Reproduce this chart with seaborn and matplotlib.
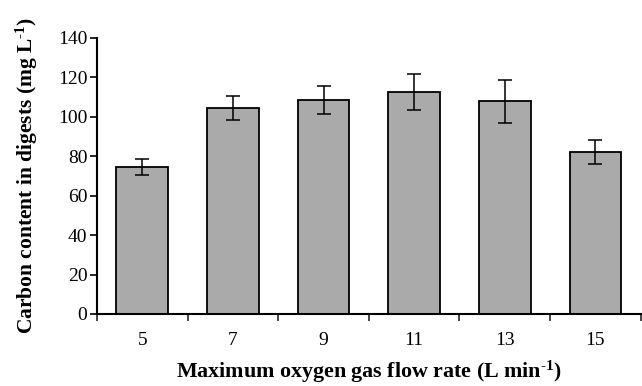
import matplotlib
matplotlib.use("Agg")
import matplotlib.pyplot as plt
import seaborn as sns
import numpy as np
import pandas as pd
from matplotlib.ticker import FixedLocator, NullFormatter

flow_rates = ["5", "7", "9", "11", "13", "15"]
carbon = [74.5, 104.5, 108.4, 112.5, 107.7, 82.0]
errors = [4.0, 6.0, 7.0, 9.0, 11.0, 6.0]

sns.set_theme(style="white")
plt.rcParams['font.family'] = ['Liberation Serif', 'DejaVu Serif']
plt.rcParams['mathtext.fontset'] = 'custom'
plt.rcParams['mathtext.rm'] = 'Liberation Serif'
plt.rcParams['mathtext.bf'] = 'Liberation Serif:bold'
plt.rcParams['mathtext.it'] = 'Liberation Serif:italic'
plt.rcParams['axes.unicode_minus'] = False

df = pd.DataFrame({"rate": flow_rates, "carbon": carbon})

fig = plt.figure(figsize=(6.42, 3.86), dpi=100)
ax = fig.add_axes([97/642, 1 - 314/386, 1 - 97/642 - 0.002, (314 - 37.7)/386])

sns.barplot(data=df, x="rate", y="carbon", color="#aaaaaa", saturation=1,
            edgecolor="black", linewidth=1.3, width=0.57, errorbar=None, ax=ax)
ax.errorbar(np.arange(len(flow_rates)), carbon, yerr=errors, fmt="none",
            ecolor="black", elinewidth=1.1, capsize=5, capthick=1.1)

ax.set_ylim(0, 140)
ax.set_xlim(-0.5, 5.5)
ax.set_yticks(np.arange(0, 141, 20))
ax.tick_params(axis="y", direction="out", length=5, width=1.2, labelsize=14, colors="black", pad=2, left=True)

ax.xaxis.set_major_locator(FixedLocator(np.arange(-0.5, 6.0, 1.0)))
ax.xaxis.set_major_formatter(NullFormatter())
ax.xaxis.set_minor_locator(FixedLocator(np.arange(len(flow_rates))))
ax.set_xticklabels(flow_rates, minor=True)
ax.tick_params(axis="x", which="major", direction="out", length=5, width=1.2, bottom=True)
ax.tick_params(axis="x", which="minor", length=0, labelsize=14, pad=13, colors="black")

for s in ["top", "right"]:
    ax.spines[s].set_visible(False)
for s in ["left", "bottom"]:
    ax.spines[s].set_color("black")
    ax.spines[s].set_linewidth(1.5)

ax.set_xlabel("Maximum oxygen gas flow rate (L min$^{\\mathbf{\u2010 1}}$)", fontsize=15.8,
              fontweight="bold", color="black", labelpad=7)
ax.set_ylabel("Carbon content in digests (mg L$^{\\mathbf{\u2010 1}}$)", fontsize=15.5,
              fontweight="bold", color="black", labelpad=13)

fig.savefig("out.png", dpi=100)
